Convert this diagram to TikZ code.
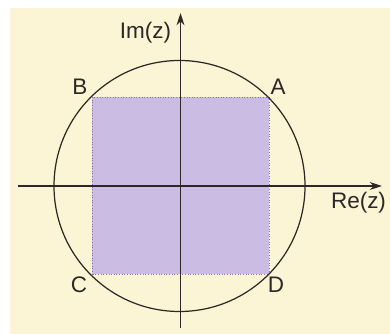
\documentclass[tikz,border=0pt]{standalone}
\usepackage{fontspec}
\setmainfont{Liberation Sans}
\usepackage{xcolor}
\definecolor{paper}{RGB}{252, 245, 213}
\definecolor{lilac}{RGB}{202, 188, 226}
\definecolor{lilacedge}{RGB}{140, 110, 160}
\definecolor{ink}{RGB}{45, 40, 40}
\usetikzlibrary{arrows.meta}

\begin{document}
\begin{tikzpicture}[font=\fontsize{12.8}{14}\selectfont]
    % Page and paper
    \useasboundingbox (-3.61, -2.96) rectangle (4.19, 3.72);
    \fill[white] (-3.61, -2.96) rectangle (4.19, 3.72);
    \fill[paper] (-3.41, -2.96) rectangle (4.19, 3.56);

    % Square ABCD inscribed in the circle
    \filldraw[lilac, draw=lilacedge, densely dotted, line width=0.5pt] (-1.77, -1.77) rectangle (1.77, 1.77);

    % Circle
    \draw[ink, line width=0.7pt] (-0.02, 0) circle (2.51cm);

    % Axes
    \draw[-{Stealth[length=7pt, width=4.5pt]}, ink, line width=0.7pt] (-3.25, 0) -- (4.03, 0);
    \draw[-{Stealth[length=7pt, width=4.5pt]}, ink, line width=0.7pt] (0, -2.84) -- (0, 3.46);
    \node[ink] (re) at (3.56, -0.33) {Re(z)};
    \node[ink] (im) at (-0.7, 3.06) {Im(z)};

    % Vertices
    \node[ink] (A) at (1.95, 1.98) {A};
    \node[ink] (B) at (-2.01, 1.98) {B};
    \node[ink] (C) at (-2.03, -1.98) {C};
    \node[ink] (D) at (1.91, -1.98) {D};
\end{tikzpicture}
\end{document}
